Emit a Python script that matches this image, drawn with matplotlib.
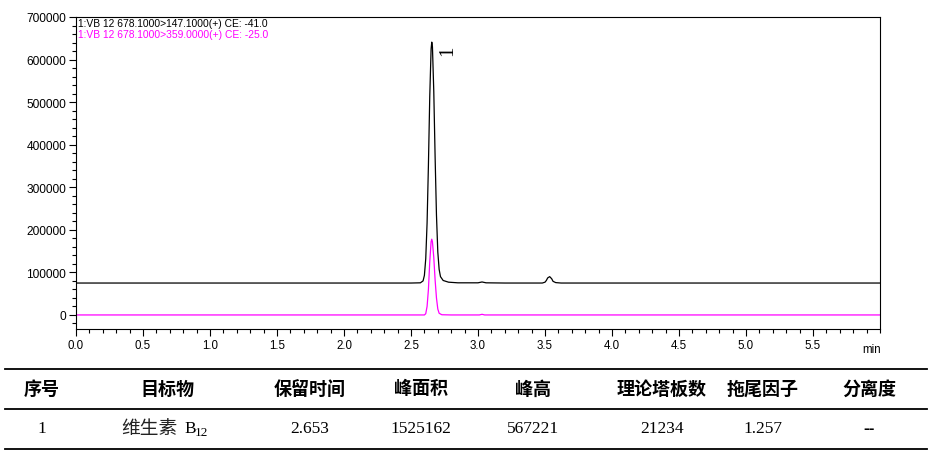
import matplotlib
matplotlib.use("Agg")
import matplotlib.pyplot as plt
from matplotlib.ticker import MultipleLocator, FixedLocator
from matplotlib.lines import Line2D

# chromatogram traces (time in min, intensity)
black_t = [0.00, 2.50, 2.57, 2.59, 2.60, 2.61, 2.62, 2.63, 2.64, 2.65, 2.655, 2.66,
           2.67, 2.68, 2.69, 2.70, 2.71, 2.72, 2.74, 2.78, 2.85, 3.00, 3.03, 3.06,
           3.20, 3.48, 3.50, 3.51, 3.52, 3.535, 3.55, 3.56, 3.58, 3.62, 4.20, 6.00]
black_y = [75000, 75000, 75500, 80000, 93000, 132000, 216000, 352000, 514000, 625000, 641000, 630000,
           525000, 370000, 235000, 148000, 107000, 90000, 81000, 77000, 75500, 75500, 77500, 75500,
           75000, 75000, 77000, 81000, 87000, 90000, 85000, 79000, 76000, 75000, 75000, 75000]

pink_t = [0.00, 2.60, 2.61, 2.62, 2.63, 2.64, 2.65, 2.655, 2.66, 2.67, 2.68, 2.69,
          2.70, 2.71, 2.73, 2.80, 3.01, 3.03, 3.05, 6.00]
pink_y = [0, 0, 3000, 20000, 60000, 125000, 172000, 178000, 172000, 135000, 82000, 40000,
          14000, 4000, 500, 0, 0, 1500, 0, 0]

trace_labels = ["1:VB 12 678.1000>147.1000(+) CE: -41.0",
                "1:VB 12 678.1000>359.0000(+) CE: -25.0"]

x_ticks = [0.0, 0.5, 1.0, 1.5, 2.0, 2.5, 3.0, 3.5, 4.0, 4.5, 5.0, 5.5]
y_ticks = [0, 100000, 200000, 300000, 400000, 500000, 600000, 700000]

# result table
headers = ["序号", "目标物", "保留时间", "峰面积", "峰高", "理论塔板数", "拖尾因子", "分离度"]
row = ["1", "维生素 B12", "2.653", "1525162", "567221", "21234", "1.257", "--"]
col_x = [42, 167, 310, 421, 533, 662, 763, 869]   # column centres, px

W, H = 932, 456
fig = plt.figure(figsize=(W / 100, H / 100), dpi=100)
ax = fig.add_axes([76 / W, 1 - 330 / H, (880 - 76) / W, (330 - 18) / H])

ax.plot(black_t, black_y, color="black", lw=0.9)
ax.plot(pink_t, pink_y, color="#ff00ff", lw=0.9)

ax.set_xlim(0, 6.0)
ax.set_ylim(-33000, 700000)
ax.xaxis.set_major_locator(FixedLocator(x_ticks))
ax.xaxis.set_minor_locator(MultipleLocator(0.1))
ax.yaxis.set_major_locator(FixedLocator(y_ticks))
ax.yaxis.set_minor_locator(MultipleLocator(20000))
ax.set_xticklabels([f"{v:.1f}" for v in x_ticks])
ax.set_yticklabels([str(v) for v in y_ticks])
ax.tick_params(which="major", direction="out", length=5, width=0.8, labelsize=8.6,
               pad=2)
ax.tick_params(which="minor", direction="out", length=3, width=0.8)
ax.tick_params(axis="x", labelsize=8.3)
for s in ax.spines.values():
    s.set_linewidth(0.8)
for lab in ax.get_xticklabels() + ax.get_yticklabels():
    lab.set_family("Liberation Sans")

ax.text(0.99, -0.045, "min", transform=ax.transAxes, ha="center", va="top",
        fontsize=8.3, family="Liberation Sans")
ax.text(0.002, 0.996, trace_labels[0], transform=ax.transAxes, ha="left", va="top",
        fontsize=7.4, family="Liberation Sans", color="black")
ax.text(0.002, 0.961, trace_labels[1], transform=ax.transAxes, ha="left", va="top",
        fontsize=7.4, family="Liberation Sans", color="#ff00ff")
# peak number
ax.text(2.776, 622000, "1", rotation=90, ha="center", va="center",
        fontsize=15, family="Liberation Serif")

# table
def fy(py):
    return 1 - py / H

for py in (369.5, 409.5, 449.5):
    fig.add_artist(Line2D([5 / W, 927 / W], [fy(py), fy(py)], color="black", lw=1.3))

for x, h in zip(col_x, headers):
    fig.text(x / W, fy(389), h, ha="center", va="center", fontsize=13,
             family="Noto Sans CJK SC", fontweight="bold")

for x, v in zip(col_x, row):
    if v.startswith("维生素"):
        name, sub = v.split(" B")
        fig.text(121 / W, fy(429), name, ha="left", va="center", fontsize=13.5,
                 family="Noto Sans CJK SC", color="#222222")
        fig.text(184 / W, fy(429), "B", ha="left", va="center", fontsize=12.5,
                 family="Liberation Serif")
        fig.text(195 / W, fy(433), sub, ha="left", va="center", fontsize=9.5,
                 family="Liberation Serif")
    elif v == "--":
        fig.text(x / W, fy(429), v, ha="center", va="center", fontsize=12.5,
                 family="Liberation Sans", fontweight="bold")
    else:
        fig.text(x / W, fy(429), v, ha="center", va="center", fontsize=12.5,
                 family="Liberation Serif")

fig.savefig("out.png", dpi=100)
